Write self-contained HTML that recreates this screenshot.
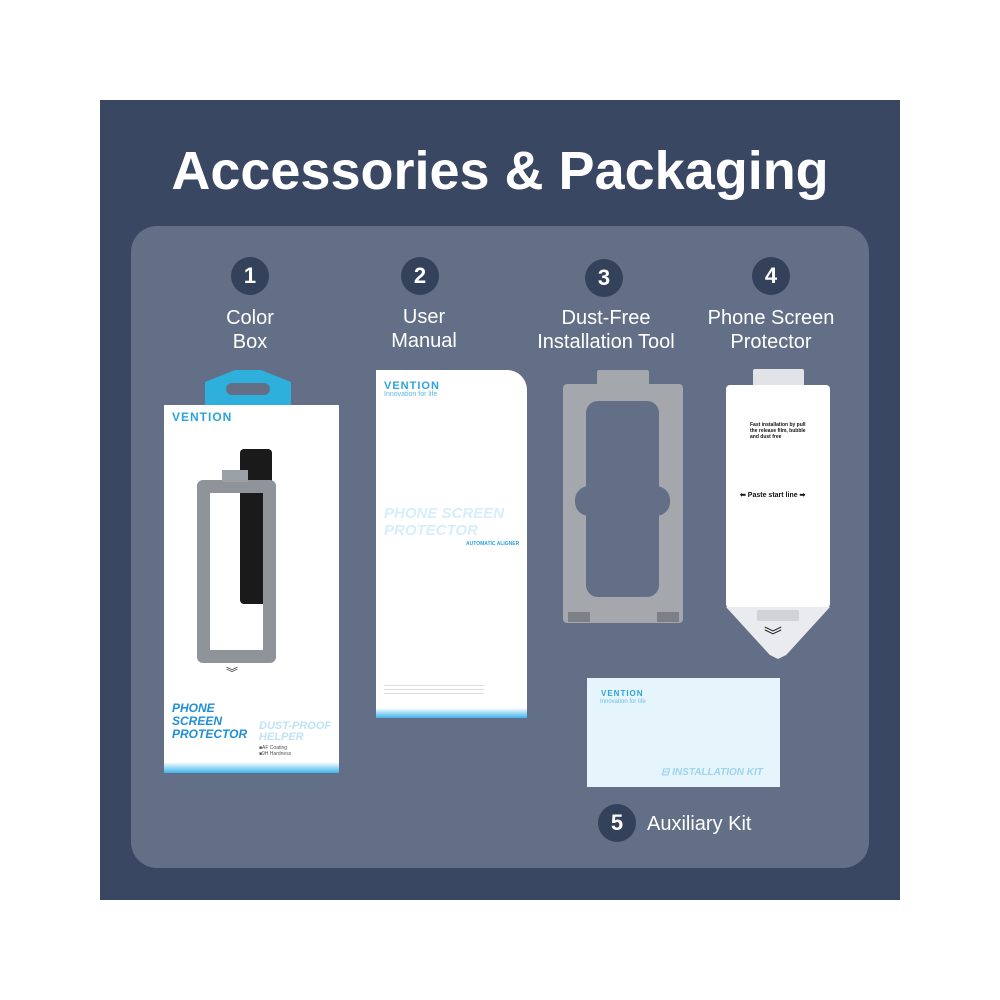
<!DOCTYPE html>
<html><head><meta charset="utf-8"><style>
*{margin:0;padding:0;box-sizing:border-box}
body{width:1000px;height:1000px;background:#fff;position:relative;overflow:hidden;font-family:"Liberation Sans",sans-serif}
.a{position:absolute}
.frame{left:100px;top:100px;width:800px;height:800px;background:#3a4762}
.panel{left:131px;top:226px;width:738px;height:642px;background:#636f86;border-radius:26px}
h1{position:absolute;left:100px;width:800px;top:140px;text-align:center;color:#fff;font-size:54px;font-weight:bold}
.c{width:38px;height:38px;border-radius:50%;background:#34415b;color:#fff;font-weight:bold;font-size:22px;text-align:center;line-height:38px}
.l{color:#fff;font-size:20px;text-align:center;line-height:24px;width:200px}
.logo{color:#2aa4dc;font-weight:bold;font-size:11px;letter-spacing:1px}
.grad{background:linear-gradient(#fff,#3fb4ea)}
</style></head><body>
<div class="a frame"></div>
<div class="a panel"></div>
<h1>Accessories &amp; Packaging</h1>

<div class="a c" style="left:231px;top:257px">1</div>
<div class="a c" style="left:401px;top:257px">2</div>
<div class="a c" style="left:585px;top:259px">3</div>
<div class="a c" style="left:752px;top:257px">4</div>
<div class="a l" style="left:150px;top:306px">Color<br>Box</div>
<div class="a l" style="left:324px;top:305px">User<br>Manual</div>
<div class="a l" style="left:506px;top:306px">Dust-Free<br>Installation Tool</div>
<div class="a l" style="left:671px;top:306px">Phone Screen<br>Protector</div>

<!-- color box -->
<div class="a" style="left:205px;top:370px;width:86px;height:40px;background:#2fb0dc;clip-path:polygon(0 30%,35% 0,65% 0,100% 30%,100% 100%,0 100%)"></div>
<div class="a" style="left:226px;top:383px;width:44px;height:12px;background:#636f86;border-radius:6px"></div>
<div class="a" style="left:164px;top:405px;width:175px;height:368px;background:#fff"></div>
<div class="a grad" style="left:164px;top:762px;width:175px;height:11px"></div>
<div class="a logo" style="left:172px;top:410px;font-size:12px">VENTION</div>
<div class="a" style="left:240px;top:449px;width:32px;height:155px;background:#1a1a1a;border-radius:4px"></div>
<div class="a" style="left:197px;top:480px;width:79px;height:183px;border:13px solid #8f949b;border-radius:6px;background:transparent"></div>
<div class="a" style="left:222px;top:470px;width:26px;height:12px;background:#9aa0a6"></div>
<div class="a" style="left:226px;top:664px;color:#333;font-size:12px">︾</div>
<div class="a" style="left:172px;top:702px;color:#1f8fd6;font-weight:bold;font-style:italic;font-size:12px;line-height:13px">PHONE<br>SCREEN<br>PROTECTOR</div>
<div class="a" style="left:259px;top:721px;color:#bfe2f5;font-weight:bold;font-style:italic;font-size:11px;line-height:11px">DUST-PROOF<br>HELPER</div>
<div class="a" style="left:259px;top:745px;color:#555;font-size:5px;line-height:6px">■AF Coating<br>■9H Hardness</div>

<!-- manual -->
<div class="a" style="left:376px;top:370px;width:151px;height:348px;background:#fff;border-radius:0 20px 0 0;overflow:hidden"></div>
<div class="a grad" style="left:376px;top:708px;width:151px;height:10px"></div>
<div class="a logo" style="left:384px;top:380px">VENTION</div>
<div class="a" style="left:384px;top:391px;color:#5cb8e0;font-size:7px">Innovation for life</div>
<div class="a" style="left:384px;top:505px;color:#d6eefa;font-weight:bold;font-style:italic;font-size:15px;line-height:17px">PHONE SCREEN<br>PROTECTOR</div>
<div class="a" style="left:466px;top:541px;color:#2aa4dc;font-weight:bold;font-size:5px">AUTOMATIC ALIGNER</div>
<div class="a" style="left:384px;top:685px;width:100px;height:10px;background:repeating-linear-gradient(#ddd 0 1px,#fff 1px 4px)"></div>

<!-- tool -->
<div class="a" style="left:563px;top:384px;width:120px;height:239px;background:#a4a7ab;border-radius:4px"></div>
<div class="a" style="left:597px;top:370px;width:52px;height:16px;background:#a4a7ab;border-radius:2px"></div>
<div class="a" style="left:586px;top:401px;width:73px;height:196px;background:#636f86;border-radius:12px"></div>
<div class="a" style="left:575px;top:486px;width:95px;height:30px;background:#636f86;border-radius:14px"></div>
<div class="a" style="left:568px;top:612px;width:22px;height:10px;background:#7d8086"></div>
<div class="a" style="left:657px;top:612px;width:22px;height:10px;background:#7d8086"></div>

<!-- protector -->
<div class="a" style="left:753px;top:369px;width:51px;height:18px;background:#e1e3e6;border-radius:2px"></div>
<div class="a" style="left:726px;top:385px;width:104px;height:223px;background:#fff;border-radius:4px"></div>
<div class="a" style="left:726px;top:607px;width:104px;height:52px;background:#e9ebee;clip-path:polygon(0 0,100% 0,58% 92%,50% 100%,42% 92%)"></div>
<div class="a" style="left:757px;top:610px;width:42px;height:11px;background:#cfd2d6;border-radius:2px"></div>
<div class="a" style="left:764px;top:627px;color:#222;font-size:18px;line-height:18px">︾</div>
<div class="a" style="left:750px;top:422px;color:#111;font-size:5px;line-height:6px;font-weight:bold">Fast installation by pull<br>the release film, bubble<br>and dust free</div>
<div class="a" style="left:740px;top:491px;color:#111;font-size:7px;font-weight:bold;white-space:nowrap">⬅ Paste start line ➡</div>

<!-- kit -->
<div class="a" style="left:587px;top:678px;width:193px;height:109px;background:#e6f4fc"></div>
<div class="a logo" style="left:601px;top:689px;font-size:8px">VENTION</div>
<div class="a" style="left:600px;top:699px;color:#6cc0e6;font-size:6px">Innovation for life</div>
<div class="a" style="left:661px;top:767px;color:#9fd3ef;font-weight:bold;font-style:italic;font-size:10px">⊟ INSTALLATION KIT</div>

<div class="a c" style="left:598px;top:804px">5</div>
<div class="a" style="left:647px;top:813px;color:#fff;font-size:20px">Auxiliary Kit</div>
</body></html>
